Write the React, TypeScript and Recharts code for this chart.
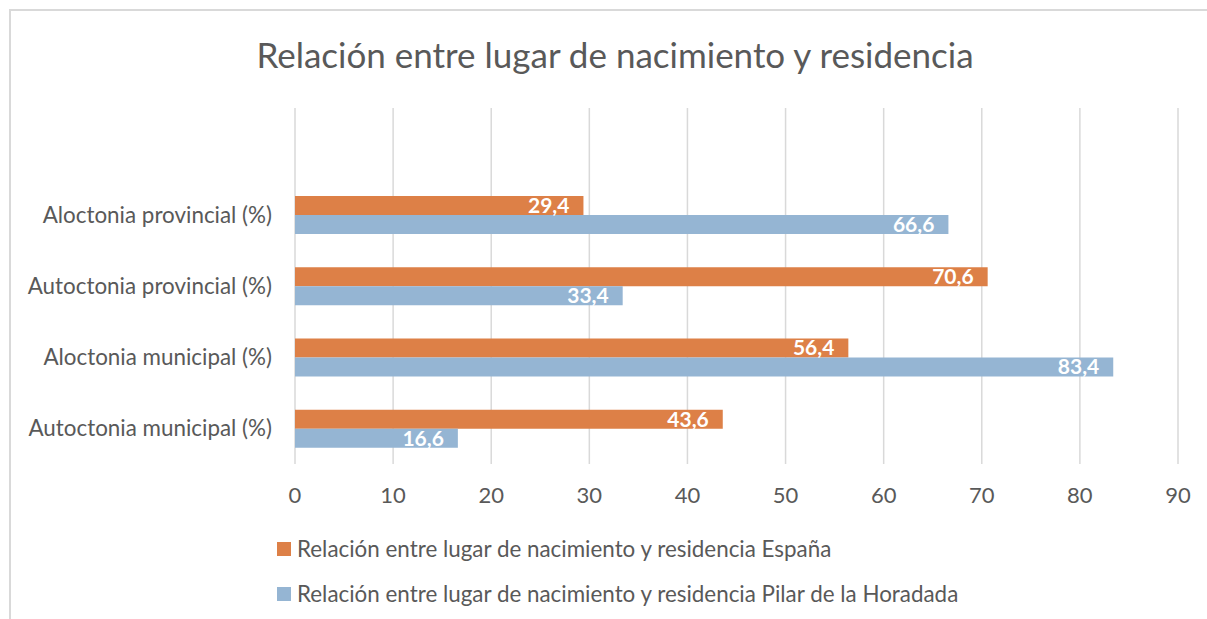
import React from "react";
import { BarChart, Bar, XAxis, YAxis, CartesianGrid, LabelList, Legend } from "recharts";

const categories = [
  "Aloctonia provincial (%)",
  "Autoctonia provincial (%)",
  "Aloctonia municipal (%)",
  "Autoctonia municipal (%)",
];
const espana = [29.4, 70.6, 56.4, 43.6];
const pilar = [66.6, 33.4, 83.4, 16.6];
const xTicks = [0, 10, 20, 30, 40, 50, 60, 70, 80, 90];

const SERIES_ESP = "Relación entre lugar de nacimiento y residencia España";
const SERIES_PIL = "Relación entre lugar de nacimiento y residencia Pilar de la Horadada";

const data = categories.map((name, i) => ({ name, esp: espana[i], pil: pilar[i] }));

const FONT = "Lato, 'Open Sans', sans-serif";
const GREY = "#595959";

const fmt = (v: unknown) => (v == null ? "" : String(v).replace(".", ","));

const LegendContent = ({ payload }: { payload?: { value: string; color: string }[] }) => (
  <div style={{ fontFamily: FONT, fontSize: 22.4, color: GREY }}>
    {(payload || []).map((p) => (
      <div key={p.value} style={{ display: "flex", alignItems: "center", height: 45 }}>
        <span style={{ width: 14, height: 14, background: p.color, marginRight: 6, display: "inline-block" }} />
        <span>{p.value}</span>
      </div>
    ))}
  </div>
);

export default function App() {
  return (
    <div style={{ position: "absolute", left: 0, top: 0, width: 1207, height: 619, background: "#fff", overflow: "hidden" }}>
      <div
        style={{
          position: "absolute",
          left: 9,
          top: 9,
          width: 1220,
          height: 640,
          border: "2px solid #d9d9d9",
        }}
      />
      <div
        style={{
          position: "absolute",
          left: 0,
          top: 32,
          width: 1230,
          textAlign: "center",
          fontFamily: FONT,
          fontSize: 35,
          lineHeight: "44px",
          color: GREY,
        }}
      >
        Relación entre lugar de nacimiento y residencia
      </div>
      <div style={{ position: "absolute", left: 0, top: 0 }}>
        <BarChart
          width={1207}
          height={619}
          data={data}
          layout="vertical"
          margin={{ top: 108, right: 29, bottom: 115, left: 0 }}
          barGap={0}
          barSize={19}
        >
          <CartesianGrid horizontal={false} stroke="#d9d9d9" strokeWidth={1.5} />
          <XAxis
            type="number"
            domain={[0, 90]}
            ticks={xTicks}
            axisLine={false}
            tickLine={false}
            tickSize={0}
            tickMargin={23}
            height={40}
            tick={{ fill: GREY, fontSize: 22, fontFamily: FONT }}
          />
          <YAxis
            type="category"
            dataKey="name"
            width={295}
            axisLine={false}
            tickLine={false}
            tickSize={0}
            tickMargin={23}
            padding={{ top: 71, bottom: 0 }}
            tick={{ fill: GREY, fontSize: 22.4, fontFamily: FONT }}
          />
          <Legend
            layout="vertical"
            verticalAlign="middle"
            align="center"
            content={<LegendContent />}
            wrapperStyle={{ position: "absolute", left: 277, top: 526, width: 900 }}
          />
          <Bar dataKey="esp" name={SERIES_ESP} fill="#dd8047" isAnimationActive={false}>
            <LabelList
              dataKey="esp"
              position="insideRight"
              offset={14}
              formatter={fmt}
              fill="#fff"
              style={{ fontFamily: FONT, fontSize: 21, fontWeight: 700 }}
            />
          </Bar>
          <Bar dataKey="pil" name={SERIES_PIL} fill="#95b5d3" isAnimationActive={false}>
            <LabelList
              dataKey="pil"
              position="insideRight"
              offset={14}
              formatter={fmt}
              fill="#fff"
              style={{ fontFamily: FONT, fontSize: 21, fontWeight: 700 }}
            />
          </Bar>
        </BarChart>
      </div>
    </div>
  );
}
